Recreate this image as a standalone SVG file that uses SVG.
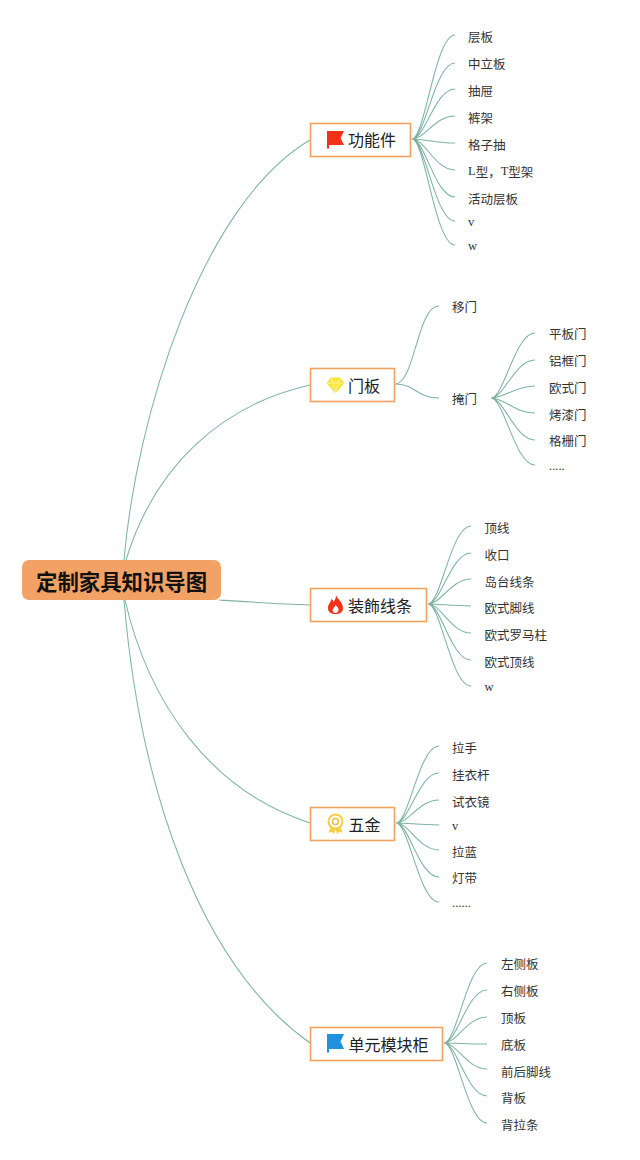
<svg xmlns="http://www.w3.org/2000/svg" width="640" height="1160" viewBox="0 0 640 1160">
<style>
.l{fill:none;stroke:#7fb3a1;stroke-width:1.050}
.box{fill:#fff;stroke:#f2a25f;stroke-width:1.6}
.t{font-family:"Noto Sans CJK SC","Noto Sans",sans-serif;font-size:12.5px;fill:#333;dominant-baseline:central}
.s{font-family:"Liberation Serif","Noto Sans CJK SC",serif;font-size:12.5px;fill:#333;dominant-baseline:central}
.n{font-family:"Noto Sans CJK SC","Noto Sans",sans-serif;font-size:16px;fill:#222;dominant-baseline:central}
.r{font-family:"Noto Sans CJK SC","Noto Sans",sans-serif;font-size:21.4px;font-weight:700;fill:#111;dominant-baseline:central}
</style>
<rect width="640" height="1160" fill="#fff"/>
<g id="connectors">
<path class="l" d="M124 560C136 420 200 205 310 140"/>
<path class="l" d="M126 560C155 465 222 405 310 385"/>
<path class="l" d="M219 600C250 602 280 604 310 605"/>
<path class="l" d="M125 600C148 700 208 790 310 823"/>
<path class="l" d="M124 600C140 790 200 965 310 1043"/>
<path class="l" d="M412 139C425 139 435 35 455 35M412 139C425 139 435 63 455 63M412 139C425 139 435 89 455 89M412 139C425 139 435 116 455 116M412 139C425 139 435 143 455 143M412 139C425 139 435 170 455 170M412 139C425 139 435 197 455 197M412 139C425 139 435 221 455 221M412 139C425 139 435 245 455 245"/>
<path class="l" d="M395 384C415 384 417 306 439 306M395 384C415 384 417 398 439 398"/>
<path class="l" d="M491 398C504 398 515 333 535 333M491 398C504 398 515 360 535 360M491 398C504 398 515 386 535 386M491 398C504 398 515 413 535 413M491 398C504 398 515 440 535 440M491 398C504 398 515 465 535 465"/>
<path class="l" d="M428 604C441 604 451 526 471 526M428 604C441 604 451 553 471 553M428 604C441 604 451 579 471 579M428 604C441 604 451 606 471 606M428 604C441 604 451 633 471 633M428 604C441 604 451 660 471 660M428 604C441 604 451 686 471 686"/>
<path class="l" d="M396 823C409 823 419 746 439 746M396 823C409 823 419 773 439 773M396 823C409 823 419 800 439 800M396 823C409 823 419 825 439 825M396 823C409 823 419 850 439 850M396 823C409 823 419 877 439 877M396 823C409 823 419 902 439 902"/>
<path class="l" d="M444 1043C457 1043 467 963 487 963M444 1043C457 1043 467 990 487 990M444 1043C457 1043 467 1017 487 1017M444 1043C457 1043 467 1044 487 1044M444 1043C457 1043 467 1069 487 1069M444 1043C457 1043 467 1096 487 1096M444 1043C457 1043 467 1123 487 1123"/>
</g>
<g id="root"><rect x="22" y="560" width="199" height="40" rx="7" fill="#f3a266"/><text class="r" x="36" y="580.500">定制家具知识导图</text></g>
<g id="n1"><rect class="box" x="310.500" y="123.500" width="100" height="33"/>
<path d="M327 131H344L340.500 138L344 145H329V148.500H327Z" fill="#f4321a"/>
<text class="n" x="348" y="139">功能件</text></g>
<g id="n1c"><text class="t" x="468" y="36">层板</text><text class="t" x="468" y="63">中立板</text><text class="t" x="468" y="90">抽屉</text><text class="t" x="468" y="117">裤架</text><text class="t" x="468" y="144">格子抽</text><text class="t" x="468" y="171"><tspan class="s">L</tspan>型，<tspan class="s">T</tspan>型架</text><text class="t" x="468" y="198">活动层板</text><text class="s" x="468" y="222">v</text><text class="s" x="468" y="246">w</text></g>
<g id="n2"><rect class="box" x="310.500" y="368.500" width="84" height="33"/>
<path d="M331 378H340L344 383L335.500 393L327 383Z" fill="#fbe83f" stroke="#f3d52a" stroke-width=".8"/>
<path d="M331 378L333 383L335.500 393L338 383L340 378M327 383H344" fill="none" stroke="#fff6a8" stroke-width=".8"/>
<text class="n" x="348" y="384.500">门板</text></g>
<g id="n2c"><text class="t" x="452" y="306">移门</text><text class="t" x="452" y="398">掩门</text><text class="t" x="549" y="333">平板门</text><text class="t" x="549" y="360">铝框门</text><text class="t" x="549" y="387">欧式门</text><text class="t" x="549" y="414">烤漆门</text><text class="t" x="549" y="440">格栅门</text><text class="s" x="549" y="466">.....</text></g>
<g id="n3"><rect class="box" x="310.500" y="588.500" width="116" height="33"/>
<path d="M336 595C337 599 343 602 343 608C343 612 340 614 335.500 614C331 614 328 612 328 608C328 604 331 602 331.500 599C333 600 333.500 601 333.500 602C335 600 336 598 336 595Z" fill="#f4321a"/>
<path d="M335.500 605C337 607 339 608 338.500 610.500C338 612 337 613 335.500 613C334 613 333 612 332.500 610.500C332.500 608.500 334.500 607.500 335.500 605Z" fill="#fff"/>
<text class="n" x="348" y="604.500">装飾线条</text></g>
<g id="n3c"><text class="t" x="484.500" y="527">顶线</text><text class="t" x="484.500" y="554">收口</text><text class="t" x="484.500" y="581">岛台线条</text><text class="t" x="484.500" y="607">欧式脚线</text><text class="t" x="484.500" y="634">欧式罗马柱</text><text class="t" x="484.500" y="661">欧式顶线</text><text class="s" x="484.500" y="687">w</text></g>
<g id="n4"><rect class="box" x="310.500" y="807.500" width="84" height="33"/>
<path d="M331 826L328.500 832.500L332 832L334 834L335.500 829L337 834L339 832L342.500 832.500L340 826Z" fill="#f7cf45"/>
<circle cx="335.500" cy="821.500" r="7" fill="#fff" stroke="#f7cf45" stroke-width="2"/>
<circle cx="335.500" cy="821.500" r="3" fill="none" stroke="#f0b94a" stroke-width="1.400"/>
<text class="n" x="348.500" y="823.500">五金</text></g>
<g id="n4c"><text class="t" x="452" y="747">拉手</text><text class="t" x="452" y="774">挂衣杆</text><text class="t" x="452" y="801">试衣镜</text><text class="s" x="452" y="826">v</text><text class="t" x="452" y="851">拉蓝</text><text class="t" x="452" y="877">灯带</text><text class="s" x="452" y="903">......</text></g>
<g id="n5"><rect class="box" x="310.500" y="1027.500" width="132" height="33"/>
<path d="M327 1034H344L340.500 1041.500L344 1049H329V1052.500H327Z" fill="#1c93dc"/>
<text class="n" x="348.500" y="1043.500">单元模块柜</text></g>
<g id="n5c"><text class="t" x="501" y="963">左侧板</text><text class="t" x="501" y="990">右侧板</text><text class="t" x="501" y="1017">顶板</text><text class="t" x="501" y="1044">底板</text><text class="t" x="501" y="1071">前后脚线</text><text class="t" x="501" y="1097">背板</text><text class="t" x="501" y="1124">背拉条</text></g>
</svg>
